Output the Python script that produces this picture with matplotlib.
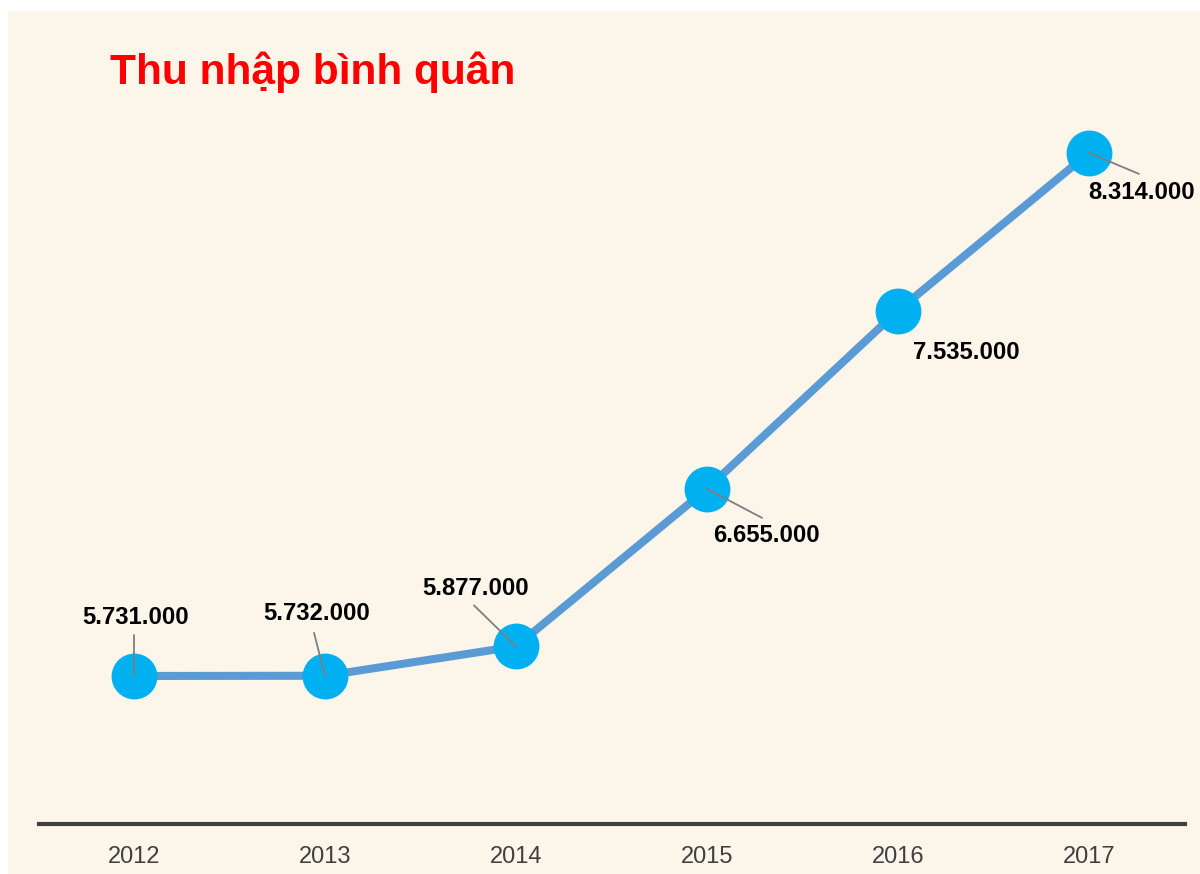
import matplotlib
matplotlib.use("Agg")
import matplotlib.pyplot as plt
from matplotlib.patches import Rectangle

years = [2012, 2013, 2014, 2015, 2016, 2017]
values = [5731000, 5732000, 5877000, 6655000, 7535000, 8314000]
labels = ["5.731.000", "5.732.000", "5.877.000", "6.655.000", "7.535.000", "8.314.000"]
# label offsets in pixels (dx, dy) relative to point, and leader end offsets
offsets = [(2, 58), (-8, 62), (-40, 58), (59, -47), (68, -42), (53, -40)]
leader_ends = [(0, 41), (-11, 43), (-42, 41), (55, -29), None, (50, -21)]

W, H = 1200, 874
fig = plt.figure(figsize=(W / 100, H / 100), dpi=100)
fig.patch.set_facecolor("white")
fig.patches.append(Rectangle((8 / W, 0), 1 - 8 / W, (H - 11) / H,
                             transform=fig.transFigure, facecolor="#FBF5EA",
                             edgecolor="none", zorder=-10))

left, right = 38.5, 1184.5
bottom_px, top_px = 824, 14
ax = fig.add_axes([left / W, 1 - bottom_px / H, (right - left) / W, (bottom_px - top_px) / H])
ax.set_zorder(1)
ax.set_facecolor("none")
ax.set_xlim(2011.5, 2017.5)
ax.set_ylim(5000000, 9000000)

ax.plot(years, values, color="#5B9BD5", lw=5.8, zorder=2, solid_capstyle="butt")
ax.plot(years, values, "o", ms=33, color="#00B0F0", mec="none", zorder=3)

k = 0.72  # px -> pt
for x, v, lab, (dx, dy), le in zip(years, values, labels, offsets, leader_ends):
    ax.annotate(lab, xy=(x, v), xytext=(dx * k, dy * k), textcoords="offset points",
                ha="center", va="center", fontsize=17.2, fontweight="bold",
                family=["Liberation Sans", "DejaVu Sans"], color="black", zorder=5)
    if le is not None:
        ax.annotate("", xy=(x, v), xytext=(le[0] * k, le[1] * k), textcoords="offset points",
                    arrowprops=dict(arrowstyle="-", color="#7F7F7F", lw=1.3,
                                    shrinkA=0, shrinkB=0), zorder=4)

for s in ["left", "right", "top"]:
    ax.spines[s].set_visible(False)
ax.spines["bottom"].set_color("#404040")
ax.spines["bottom"].set_linewidth(3)
ax.set_yticks([])
ax.set_xticks(years)
ax.set_xticklabels([str(y) for y in years], fontsize=17,
                   family=["Liberation Sans Narrow", "Liberation Sans", "DejaVu Sans"],
                   color="#404040")
ax.tick_params(axis="x", length=0, pad=16)

fig.text(110 / W, 1 - 72 / H, "Thu nhập bình quân", color="#FF0000", fontsize=30.5,
         fontweight="bold", family=["Liberation Sans", "DejaVu Sans"],
         ha="left", va="center")

fig.savefig("out.png", dpi=100, facecolor=fig.get_facecolor())
